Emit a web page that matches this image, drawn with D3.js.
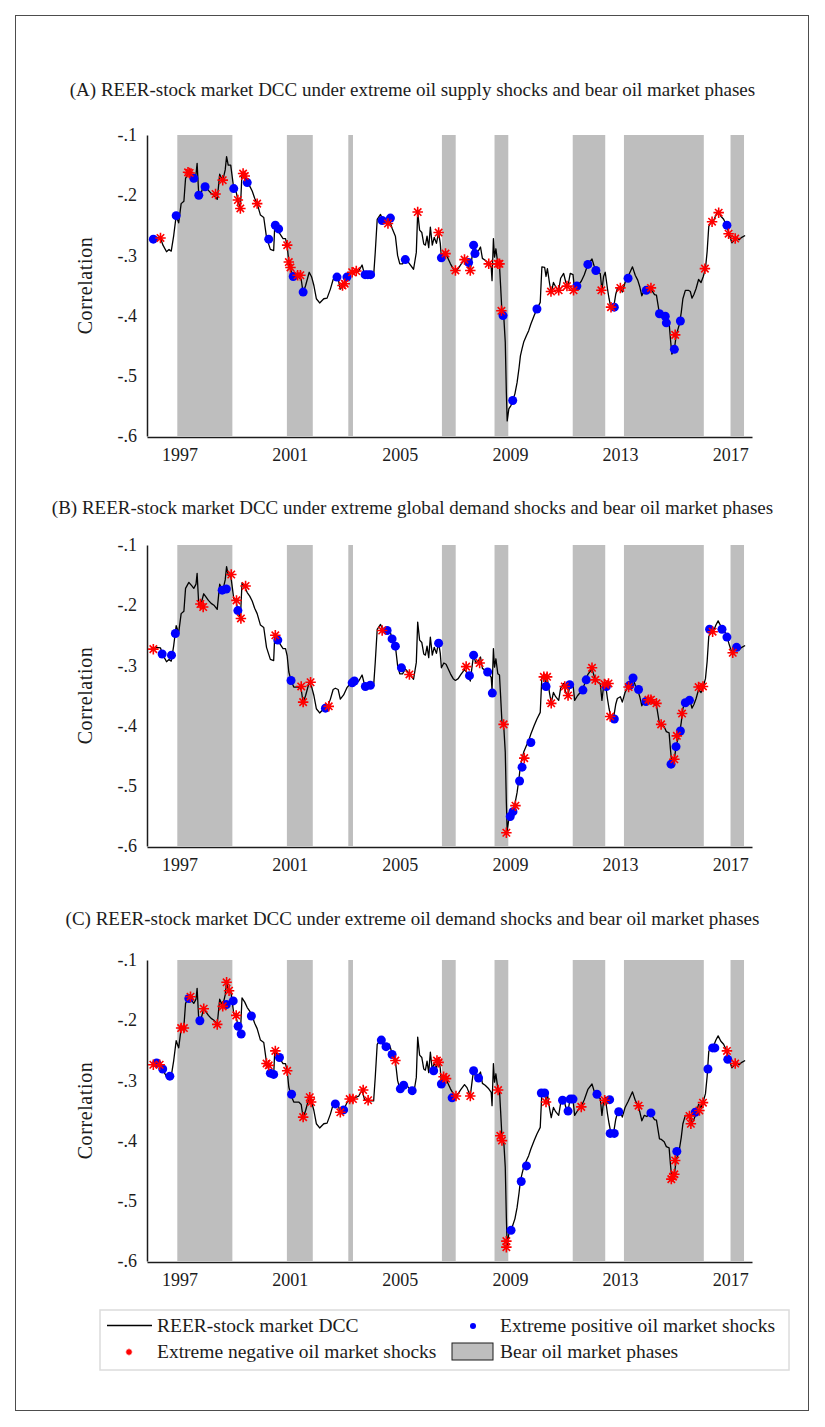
<!DOCTYPE html>
<html>
<head>
<meta charset="utf-8">
<script src="https://cdn.jsdelivr.net/npm/d3@7"></script>
<style>
  body { margin: 0; background: #fff; }
  svg text { font-family: "Liberation Serif", "Times New Roman", serif; fill: #1c1c1c; }
</style>
</head>
<body>
<div id="chart"></div>
<script>
// ---- data ----
const yearTicks = [1997, 2001, 2005, 2009, 2013, 2017];
const corrTicks = [-0.6, -0.5, -0.4, -0.3, -0.2, -0.1];

const panelTitles = [
  "(A) REER-stock market DCC under extreme oil supply shocks and bear oil market phases",
  "(B) REER-stock market DCC under extreme global demand shocks and bear oil market phases",
  "(C) REER-stock market DCC under extreme oil demand shocks and bear oil market phases"
];

// bear oil market phases, [start, end] in decimal years
const bearPhases = [
  [1996.92, 1998.92], [2000.90, 2001.84], [2003.13, 2003.30], [2006.53, 2007.03],
  [2008.44, 2008.94], [2011.28, 2012.46], [2013.14, 2016.04], [2017.01, 2017.50]
];

// REER-stock market DCC, [year, correlation]
const dcc = [
  [1996.00, -0.273], [1996.08, -0.272], [1996.17, -0.270], [1996.31, -0.271], [1996.40, -0.283],
  [1996.53, -0.294], [1996.62, -0.290], [1996.70, -0.293], [1996.79, -0.267], [1996.88, -0.234],
  [1996.97, -0.246], [1997.06, -0.214], [1997.16, -0.210], [1997.22, -0.172], [1997.34, -0.162],
  [1997.45, -0.168], [1997.52, -0.172], [1997.60, -0.165], [1997.64, -0.147], [1997.70, -0.200],
  [1997.78, -0.198], [1997.88, -0.181], [1997.96, -0.186], [1998.05, -0.192], [1998.15, -0.197],
  [1998.25, -0.200], [1998.37, -0.207], [1998.46, -0.165], [1998.52, -0.172], [1998.60, -0.170],
  [1998.66, -0.158], [1998.71, -0.136], [1998.77, -0.150], [1998.86, -0.150], [1998.97, -0.189],
  [1999.06, -0.195], [1999.12, -0.208], [1999.21, -0.223], [1999.27, -0.163], [1999.37, -0.170],
  [1999.46, -0.179], [1999.55, -0.185], [1999.64, -0.193], [1999.73, -0.205], [1999.82, -0.214],
  [1999.94, -0.233], [2000.06, -0.237], [2000.16, -0.270], [2000.30, -0.290], [2000.42, -0.292],
  [2000.46, -0.250], [2000.56, -0.258], [2000.66, -0.265], [2000.76, -0.272], [2000.85, -0.272],
  [2000.91, -0.284], [2000.97, -0.311], [2001.05, -0.325], [2001.15, -0.336], [2001.33, -0.336],
  [2001.42, -0.340], [2001.49, -0.362], [2001.58, -0.350], [2001.71, -0.328], [2001.80, -0.336],
  [2001.88, -0.350], [2001.97, -0.372], [2002.09, -0.379], [2002.24, -0.372], [2002.36, -0.371],
  [2002.48, -0.356], [2002.58, -0.340], [2002.66, -0.338], [2002.76, -0.340], [2002.84, -0.356],
  [2002.96, -0.349], [2003.08, -0.337], [2003.21, -0.330], [2003.35, -0.329], [2003.51, -0.326],
  [2003.63, -0.316], [2003.72, -0.332], [2003.85, -0.334], [2004.05, -0.334], [2004.11, -0.294],
  [2004.18, -0.240], [2004.30, -0.232], [2004.40, -0.242], [2004.50, -0.244], [2004.62, -0.240],
  [2004.72, -0.255], [2004.84, -0.268], [2004.92, -0.300], [2005.00, -0.314], [2005.10, -0.314],
  [2005.20, -0.306], [2005.32, -0.312], [2005.50, -0.323], [2005.60, -0.295], [2005.65, -0.228],
  [2005.72, -0.258], [2005.80, -0.262], [2005.87, -0.281], [2005.93, -0.283], [2005.99, -0.268],
  [2006.05, -0.287], [2006.11, -0.253], [2006.18, -0.283], [2006.25, -0.270], [2006.33, -0.280],
  [2006.41, -0.262], [2006.47, -0.280], [2006.51, -0.304], [2006.60, -0.296], [2006.68, -0.298],
  [2006.84, -0.314], [2006.94, -0.322], [2007.02, -0.325], [2007.12, -0.322], [2007.22, -0.315],
  [2007.35, -0.307], [2007.44, -0.312], [2007.56, -0.326], [2007.63, -0.300], [2007.68, -0.283],
  [2007.76, -0.296], [2007.86, -0.292], [2007.93, -0.286], [2008.00, -0.305], [2008.10, -0.308],
  [2008.23, -0.314], [2008.32, -0.320], [2008.35, -0.342], [2008.40, -0.272], [2008.44, -0.303],
  [2008.49, -0.289], [2008.56, -0.314], [2008.62, -0.316], [2008.66, -0.350], [2008.71, -0.395],
  [2008.78, -0.405], [2008.83, -0.444], [2008.87, -0.528], [2008.90, -0.575], [2008.96, -0.555],
  [2009.04, -0.549], [2009.10, -0.541], [2009.18, -0.530], [2009.26, -0.511], [2009.33, -0.487],
  [2009.38, -0.467], [2009.44, -0.455], [2009.50, -0.444], [2009.60, -0.433], [2009.68, -0.425],
  [2009.76, -0.414], [2009.88, -0.400], [2009.98, -0.389], [2010.10, -0.378], [2010.16, -0.319],
  [2010.26, -0.320], [2010.31, -0.335], [2010.36, -0.322], [2010.44, -0.347], [2010.50, -0.362],
  [2010.58, -0.345], [2010.66, -0.352], [2010.77, -0.358], [2010.84, -0.338], [2010.95, -0.330],
  [2011.03, -0.345], [2011.11, -0.350], [2011.19, -0.330], [2011.29, -0.332], [2011.35, -0.358],
  [2011.46, -0.350], [2011.59, -0.343], [2011.70, -0.332], [2011.83, -0.315], [2011.98, -0.306],
  [2012.10, -0.324], [2012.20, -0.328], [2012.28, -0.330], [2012.34, -0.358], [2012.40, -0.335],
  [2012.46, -0.328], [2012.54, -0.355], [2012.60, -0.372], [2012.66, -0.386], [2012.76, -0.388],
  [2012.84, -0.365], [2012.90, -0.355], [2013.01, -0.352], [2013.08, -0.361], [2013.18, -0.345],
  [2013.29, -0.335], [2013.45, -0.319], [2013.55, -0.333], [2013.64, -0.341], [2013.72, -0.353],
  [2013.79, -0.367], [2013.88, -0.358], [2013.97, -0.360], [2014.06, -0.355], [2014.12, -0.356],
  [2014.25, -0.365], [2014.32, -0.366], [2014.43, -0.397], [2014.50, -0.398], [2014.60, -0.402],
  [2014.68, -0.410], [2014.78, -0.412], [2014.83, -0.440], [2014.88, -0.464], [2014.97, -0.456],
  [2015.04, -0.432], [2015.15, -0.415], [2015.22, -0.395], [2015.28, -0.372], [2015.37, -0.358],
  [2015.48, -0.358], [2015.55, -0.360], [2015.61, -0.371], [2015.68, -0.365], [2015.76, -0.355],
  [2015.85, -0.340], [2015.94, -0.345], [2016.02, -0.335], [2016.10, -0.322], [2016.16, -0.294],
  [2016.22, -0.252], [2016.30, -0.245], [2016.40, -0.242], [2016.48, -0.233], [2016.56, -0.226],
  [2016.66, -0.235], [2016.76, -0.240], [2016.88, -0.252], [2016.96, -0.265], [2017.06, -0.279],
  [2017.14, -0.275], [2017.22, -0.270], [2017.32, -0.274], [2017.42, -0.270], [2017.54, -0.267]
];

// extreme positive (blue) and negative (red) shocks per panel, [year, correlation]
const posA = [
  [1996.05, -0.273], [1996.88, -0.234], [1997.52, -0.172], [1997.70, -0.200], [1997.93, -0.186],
  [1998.97, -0.189], [1999.46, -0.179], [2000.24, -0.273], [2000.48, -0.250], [2000.60, -0.256],
  [2001.13, -0.335], [2001.49, -0.361], [2002.72, -0.336], [2003.08, -0.336], [2003.74, -0.332],
  [2003.84, -0.332], [2003.94, -0.332], [2004.36, -0.242], [2004.66, -0.238], [2005.20, -0.307],
  [2006.51, -0.304], [2007.50, -0.312], [2007.68, -0.283], [2007.73, -0.297], [2008.75, -0.400],
  [2009.10, -0.541], [2009.98, -0.389], [2011.43, -0.351], [2011.83, -0.315], [2012.12, -0.325],
  [2012.79, -0.386], [2013.29, -0.338], [2013.95, -0.358], [2014.43, -0.397], [2014.64, -0.401],
  [2014.68, -0.412], [2014.97, -0.456], [2015.19, -0.409], [2016.88, -0.250]
];
const negA = [
  [1996.31, -0.271], [1997.31, -0.162], [1997.37, -0.163], [1998.31, -0.198], [1998.57, -0.175],
  [1999.12, -0.208], [1999.21, -0.222], [1999.31, -0.164], [1999.37, -0.168], [1999.82, -0.214],
  [2000.91, -0.283], [2000.97, -0.311], [2001.03, -0.320], [2001.29, -0.333], [2001.39, -0.333],
  [2002.92, -0.350], [2003.00, -0.347], [2003.27, -0.328], [2003.42, -0.326], [2004.57, -0.247],
  [2005.65, -0.228], [2006.41, -0.262], [2006.66, -0.297], [2007.02, -0.325], [2007.35, -0.307],
  [2007.56, -0.325], [2008.23, -0.314], [2008.56, -0.314], [2008.62, -0.314], [2008.69, -0.392],
  [2010.49, -0.360], [2010.77, -0.358], [2011.07, -0.351], [2011.31, -0.358], [2012.32, -0.358],
  [2012.67, -0.386], [2013.01, -0.354], [2014.12, -0.354], [2015.00, -0.432], [2016.08, -0.322],
  [2016.34, -0.244], [2016.58, -0.229], [2016.94, -0.264], [2017.18, -0.272]
];
const posB = [
  [1996.37, -0.281], [1996.71, -0.283], [1996.85, -0.247], [1998.55, -0.175], [1998.70, -0.173],
  [1999.12, -0.209], [2000.57, -0.258], [2001.05, -0.325], [2002.30, -0.371], [2003.27, -0.329],
  [2003.35, -0.326], [2003.75, -0.335], [2003.93, -0.333], [2004.54, -0.242], [2004.72, -0.256],
  [2004.84, -0.268], [2005.06, -0.304], [2006.41, -0.263], [2007.53, -0.317], [2007.68, -0.283],
  [2008.19, -0.311], [2008.36, -0.346], [2009.01, -0.551], [2009.11, -0.543], [2009.35, -0.492],
  [2009.44, -0.469], [2009.76, -0.428], [2010.31, -0.335], [2011.17, -0.332], [2011.65, -0.341],
  [2011.77, -0.324], [2012.50, -0.335], [2012.79, -0.389], [2013.35, -0.333], [2013.47, -0.321],
  [2013.67, -0.340], [2013.94, -0.360], [2014.85, -0.464], [2015.03, -0.435], [2015.19, -0.409],
  [2015.37, -0.362], [2015.52, -0.358], [2016.25, -0.240], [2016.70, -0.240], [2016.88, -0.253],
  [2017.23, -0.270]
];
const negB = [
  [1996.05, -0.273], [1997.76, -0.198], [1997.86, -0.203], [1998.88, -0.149], [1999.07, -0.192],
  [1999.23, -0.222], [1999.40, -0.168], [2000.48, -0.250], [2001.42, -0.335], [2001.49, -0.361],
  [2001.76, -0.328], [2002.42, -0.368], [2004.36, -0.242], [2005.35, -0.315], [2007.41, -0.302],
  [2007.90, -0.296], [2008.77, -0.398], [2008.87, -0.578], [2009.20, -0.533], [2009.52, -0.454],
  [2010.23, -0.319], [2010.35, -0.319], [2010.50, -0.363], [2010.99, -0.335], [2011.11, -0.350],
  [2011.98, -0.304], [2012.10, -0.324], [2012.43, -0.331], [2012.58, -0.330], [2012.64, -0.385],
  [2013.31, -0.336], [2014.03, -0.357], [2014.12, -0.357], [2014.32, -0.363], [2014.49, -0.398],
  [2014.97, -0.456], [2015.06, -0.417], [2015.25, -0.380], [2015.85, -0.336], [2016.01, -0.335],
  [2016.36, -0.244], [2017.09, -0.279]
];
const posC = [
  [1996.17, -0.271], [1996.39, -0.281], [1996.65, -0.293], [1997.34, -0.164], [1997.74, -0.201],
  [1998.70, -0.174], [1998.95, -0.168], [1999.13, -0.210], [1999.24, -0.223], [1999.61, -0.193],
  [2000.30, -0.288], [2000.42, -0.290], [2000.63, -0.262], [2001.07, -0.323], [2002.66, -0.339],
  [2002.96, -0.349], [2004.33, -0.233], [2004.50, -0.244], [2004.72, -0.257], [2005.02, -0.314],
  [2005.14, -0.308], [2005.45, -0.317], [2006.23, -0.284], [2006.51, -0.306], [2006.90, -0.329],
  [2007.68, -0.284], [2007.86, -0.296], [2009.04, -0.549], [2009.41, -0.468], [2009.60, -0.442],
  [2010.14, -0.321], [2010.26, -0.321], [2010.91, -0.333], [2011.11, -0.351], [2011.19, -0.331],
  [2011.29, -0.331], [2012.16, -0.323], [2012.62, -0.332], [2012.64, -0.388], [2012.79, -0.388],
  [2012.95, -0.352], [2014.12, -0.354], [2015.06, -0.418], [2015.73, -0.353], [2016.19, -0.281],
  [2016.36, -0.246], [2016.44, -0.246], [2016.91, -0.265]
];
const negC = [
  [1996.05, -0.274], [1996.28, -0.274], [1997.06, -0.213], [1997.16, -0.213], [1997.40, -0.161],
  [1997.88, -0.181], [1998.37, -0.207], [1998.57, -0.177], [1998.71, -0.137], [1998.80, -0.151],
  [1999.06, -0.192], [2000.16, -0.272], [2000.24, -0.275], [2000.48, -0.251], [2000.91, -0.284],
  [2001.49, -0.361], [2001.73, -0.328], [2001.78, -0.336], [2002.84, -0.353], [2003.18, -0.331],
  [2003.30, -0.331], [2003.67, -0.316], [2003.85, -0.333], [2004.84, -0.267], [2006.35, -0.267],
  [2006.41, -0.270], [2006.59, -0.294], [2006.68, -0.297], [2007.04, -0.326], [2007.56, -0.326],
  [2008.57, -0.316], [2008.65, -0.392], [2008.71, -0.400], [2008.87, -0.567], [2008.87, -0.577],
  [2010.31, -0.336], [2011.59, -0.344], [2012.44, -0.333], [2013.67, -0.342], [2014.86, -0.464],
  [2014.92, -0.460], [2014.97, -0.456], [2015.00, -0.433], [2015.52, -0.359], [2015.57, -0.372],
  [2015.88, -0.350], [2016.01, -0.337], [2016.88, -0.251], [2017.18, -0.272]
];

const positiveShocks = [posA, posB, posC];
const negativeShocks = [negA, negB, negC];

// ---- layout ----
const width = 825, height = 1427;
const plotLeft = 147, plotRight = 752;
const panelTops = [135, 545, 960];
const plotHeight = 301;
const titleOffsets = [-39, -31, -35];

const svg = d3.select("#chart").append("svg")
  .attr("width", width)
  .attr("height", height);

svg.append("rect")
  .attr("x", 15.5).attr("y", 15.5)
  .attr("width", 793).attr("height", 1395)
  .attr("fill", "none")
  .attr("stroke", "#4d4d4d")
  .attr("stroke-width", 1);

const x = d3.scaleLinear().domain([1995.82, 2017.79]).range([plotLeft, plotRight]);

// 8-spoke asterisk like the Stata marker
const asterisk = {
  draw(ctx, size) {
    const r = Math.sqrt(size) / 2;
    const d = r * Math.SQRT1_2;
    ctx.moveTo(-r, 0); ctx.lineTo(r, 0);
    ctx.moveTo(0, -r); ctx.lineTo(0, r);
    ctx.moveTo(-d, -d); ctx.lineTo(d, d);
    ctx.moveTo(-d, d); ctx.lineTo(d, -d);
  }
};
const starPath = d3.symbol().type(asterisk).size(110)();

panelTops.forEach((top, i) => {
  const y = d3.scaleLinear().domain([-0.6, -0.1]).range([top + plotHeight, top]);
  const g = svg.append("g");

  // title
  g.append("text")
    .attr("x", width / 2)
    .attr("y", top + titleOffsets[i])
    .attr("text-anchor", "middle")
    .style("font-size", "19px")
    .text(panelTitles[i]);

  // bear phases
  g.selectAll(".bear")
    .data(bearPhases)
    .enter()
    .append("rect")
    .attr("class", "bear")
    .attr("x", d => x(d[0]))
    .attr("width", d => x(d[1]) - x(d[0]))
    .attr("y", y(-0.1))
    .attr("height", y(-0.6) - y(-0.1))
    .attr("fill", "#bebebe");

  // axes
  const yAxis = g.append("g")
    .attr("transform", `translate(${plotLeft},0)`)
    .call(d3.axisLeft(y)
      .tickValues(corrTicks)
      .tickFormat(d => "-." + Math.round(-d * 10))
      .tickSize(0)
      .tickPadding(10));
  yAxis.select(".domain").attr("stroke", "#1c1c1c").attr("stroke-width", 1.5);
  yAxis.selectAll("text")
    .style("font-size", "18px")
    .style("font-family", "'Liberation Serif', serif")
    .attr("fill", "#1c1c1c");

  const xAxis = g.append("g")
    .attr("transform", `translate(0,${top + plotHeight + 1})`)
    .call(d3.axisBottom(x)
      .tickValues(yearTicks)
      .tickFormat(d3.format("d"))
      .tickSize(0)
      .tickPadding(11));
  xAxis.select(".domain").attr("stroke", "#1c1c1c").attr("stroke-width", 1.5);
  xAxis.selectAll("text")
    .style("font-size", "18px")
    .style("font-family", "'Liberation Serif', serif")
    .attr("fill", "#1c1c1c");

  // y title
  g.append("text")
    .attr("transform", `translate(92,${top + plotHeight / 2}) rotate(-90)`)
    .attr("text-anchor", "middle")
    .style("font-size", "20px")
    .style("letter-spacing", "0.6px")
    .text("Correlation");

  // DCC line
  const line = d3.line().x(d => x(d[0])).y(d => y(d[1]));
  g.append("path")
    .datum(dcc)
    .attr("fill", "none")
    .attr("stroke", "#000")
    .attr("stroke-width", 1.3)
    .attr("stroke-linejoin", "round")
    .attr("d", line);

  // positive shocks
  g.selectAll(".pos")
    .data(positiveShocks[i])
    .enter()
    .append("circle")
    .attr("class", "pos")
    .attr("cx", d => x(d[0]))
    .attr("cy", d => y(d[1]))
    .attr("r", 4.5)
    .attr("fill", "#0000ff");

  // negative shocks
  g.selectAll(".neg")
    .data(negativeShocks[i])
    .enter()
    .append("path")
    .attr("class", "neg")
    .attr("transform", d => `translate(${x(d[0])},${y(d[1])})`)
    .attr("d", starPath)
    .attr("fill", "none")
    .attr("stroke", "#ff0000")
    .attr("stroke-width", 1.6);
});

// ---- legend ----
const legend = svg.append("g");
legend.append("rect")
  .attr("x", 100).attr("y", 1310)
  .attr("width", 689).attr("height", 60)
  .attr("fill", "#fff")
  .attr("stroke", "#dcdcdc")
  .attr("stroke-width", 1.5);

legend.append("line")
  .attr("x1", 107).attr("x2", 152)
  .attr("y1", 1325.5).attr("y2", 1325.5)
  .attr("stroke", "#000").attr("stroke-width", 1.3);
legend.append("text").attr("x", 157).attr("y", 1332).style("font-size", "19.5px")
  .text("REER-stock market DCC");

legend.append("circle")
  .attr("cx", 473).attr("cy", 1326).attr("r", 3)
  .attr("fill", "#0000ff");
legend.append("text").attr("x", 500).attr("y", 1332).style("font-size", "19.5px")
  .text("Extreme positive oil market shocks");

legend.append("path")
  .attr("transform", "translate(129,1352)")
  .attr("d", d3.symbol().type(asterisk).size(40)())
  .attr("fill", "none")
  .attr("stroke", "#ff0000")
  .attr("stroke-width", 1.5);
legend.append("text").attr("x", 157).attr("y", 1358).style("font-size", "19.5px")
  .text("Extreme negative oil market shocks");

legend.append("rect")
  .attr("x", 452).attr("y", 1343)
  .attr("width", 41).attr("height", 17)
  .attr("fill", "#bebebe")
  .attr("stroke", "#1c1c1c")
  .attr("stroke-width", 1);
legend.append("text").attr("x", 500).attr("y", 1358).style("font-size", "19.5px")
  .text("Bear oil market phases");
</script>
</body>
</html>
